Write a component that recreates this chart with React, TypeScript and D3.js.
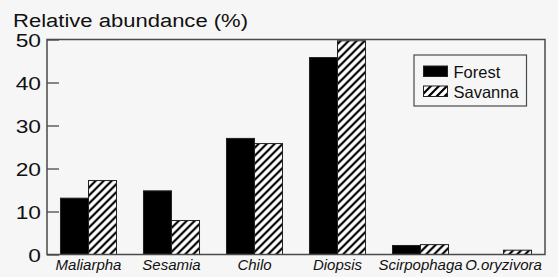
import React, { useEffect, useRef } from "react";
import * as d3 from "d3";

// data
const categories = ["Maliarpha", "Sesamia", "Chilo", "Diopsis", "Scirpophaga", "O.oryzivora"];
const forest = [13.1, 14.8, 27.0, 45.8, 2.1, 0];
const savanna = [17.2, 7.9, 25.8, 49.7, 2.3, 1.0];
const seriesNames = ["Forest", "Savanna"];
const yTicks = [0, 10, 20, 30, 40, 50];

const App = () => {
  const ref = useRef<SVGSVGElement>(null);

  useEffect(() => {
    const width = 558;
    const height = 277;
    const margin = { top: 39.5, right: 13, bottom: 22.5, left: 47 };
    const font = "'Liberation Sans', Arial, sans-serif";
    const frame = "#4a4a4a";
    const ink = "#111";

    const svg = d3.select(ref.current);
    svg.selectAll("*").remove();

    const defs = svg.append("defs");
    const pat = defs.append("pattern")
      .attr("id", "hatch")
      .attr("patternUnits", "userSpaceOnUse")
      .attr("width", 8)
      .attr("height", 8);
    pat.append("rect").attr("width", 8).attr("height", 8).attr("fill", "#fff");
    pat.append("path")
      .attr("d", "M-2,2 L2,-2 M0,8 L8,0 M6,10 L10,6")
      .attr("stroke", "#000")
      .attr("stroke-width", 2.2);

    svg.append("rect")
      .attr("width", width)
      .attr("height", height)
      .attr("fill", "#f6f6f6");

    const x = d3.scaleBand()
      .domain(categories)
      .range([margin.left, width - margin.right])
      .paddingInner(0.325)
      .paddingOuter(0.1625);

    const xs = d3.scaleBand()
      .domain(seriesNames)
      .range([0, x.bandwidth()]);

    const y = d3.scaleLinear()
      .domain([0, 50])
      .range([height - margin.bottom, margin.top]);

    const fills: Record<string, string> = { Forest: "#000", Savanna: "url(#hatch)" };

    const rows = categories.map((c, i) => ({ cat: c, values: [forest[i], savanna[i]] }));

    const groups = svg.append("g")
      .selectAll("g")
      .data(rows)
      .join("g")
      .attr("transform", d => `translate(${x(d.cat)},0)`);

    groups.selectAll("rect")
      .data(d => d.values.map((v, j) => ({ key: seriesNames[j], v })))
      .join("rect")
      .filter(d => d.v > 0)
      .attr("x", d => xs(d.key)!)
      .attr("y", d => y(d.v))
      .attr("width", xs.bandwidth())
      .attr("height", d => y(0) - y(d.v))
      .attr("fill", d => fills[d.key])
      .attr("stroke", "#222")
      .attr("stroke-width", 1);

    // frame
    svg.append("rect")
      .attr("x", margin.left)
      .attr("y", margin.top)
      .attr("width", width - margin.left - margin.right)
      .attr("height", height - margin.top - margin.bottom)
      .attr("fill", "none")
      .attr("stroke", frame)
      .attr("stroke-width", 1.5);

    // y ticks pointing inwards
    const yAxis = d3.axisRight(y)
      .tickValues(yTicks)
      .tickSize(12)
      .tickFormat(() => "");
    const ya = svg.append("g")
      .attr("transform", `translate(${margin.left},0)`)
      .call(yAxis);
    ya.select(".domain").remove();
    ya.selectAll("line").attr("stroke", frame).attr("stroke-width", 1.3);

    // tick labels: the original face is wide, so stretch Liberation a bit
    svg.append("g")
      .selectAll("text")
      .data(yTicks)
      .join("text")
      .attr("transform", d => `translate(41,${y(d) + 1.5}) scale(1.3,1)`)
      .attr("dominant-baseline", "central")
      .attr("text-anchor", "end")
      .attr("font-family", font)
      .attr("font-size", 17.5)
      .attr("fill", ink)
      .text(d => d);

    // category labels, kept inside the picture on the right
    svg.append("g")
      .selectAll("text")
      .data(categories)
      .join("text")
      .attr("y", 270)
      .attr("text-anchor", "middle")
      .attr("font-family", font)
      .attr("font-style", "italic")
      .attr("font-size", 15)
      .attr("fill", ink)
      .text(d => d)
      .attr("x", function (d) {
        const w = (this as SVGTextElement).getComputedTextLength();
        const c = x(d)! + x.bandwidth() / 2;
        return Math.min(c, width - 1 - w / 2);
      });

    svg.append("text")
      .attr("x", 13)
      .attr("y", 27)
      .attr("font-family", font)
      .attr("font-size", 18)
      .attr("textLength", 235)
      .attr("lengthAdjust", "spacingAndGlyphs")
      .attr("fill", ink)
      .text("Relative abundance (%)");

    // legend
    const lg = svg.append("g").attr("transform", "translate(414,55)");
    lg.append("rect")
      .attr("width", 112.5)
      .attr("height", 51)
      .attr("fill", "#f6f6f6")
      .attr("stroke", frame)
      .attr("stroke-width", 1.2);
    seriesNames.forEach((s, i) => {
      lg.append("rect")
        .attr("x", 9.5)
        .attr("y", 11 + i * 20)
        .attr("width", 24)
        .attr("height", 10.5)
        .attr("fill", fills[s])
        .attr("stroke", "#222")
        .attr("stroke-width", 1);
      lg.append("text")
        .attr("x", 39.5)
        .attr("y", 16.5 + i * 20)
        .attr("dominant-baseline", "central")
        .attr("font-family", font)
        .attr("font-size", 16.5)
        .attr("fill", ink)
        .text(s);
    });
  }, []);

  return (
    <svg
      ref={ref}
      width={558}
      height={277}
      style={{ position: "absolute", left: 0, top: 0, display: "block" }}
    />
  );
};

export default App;
